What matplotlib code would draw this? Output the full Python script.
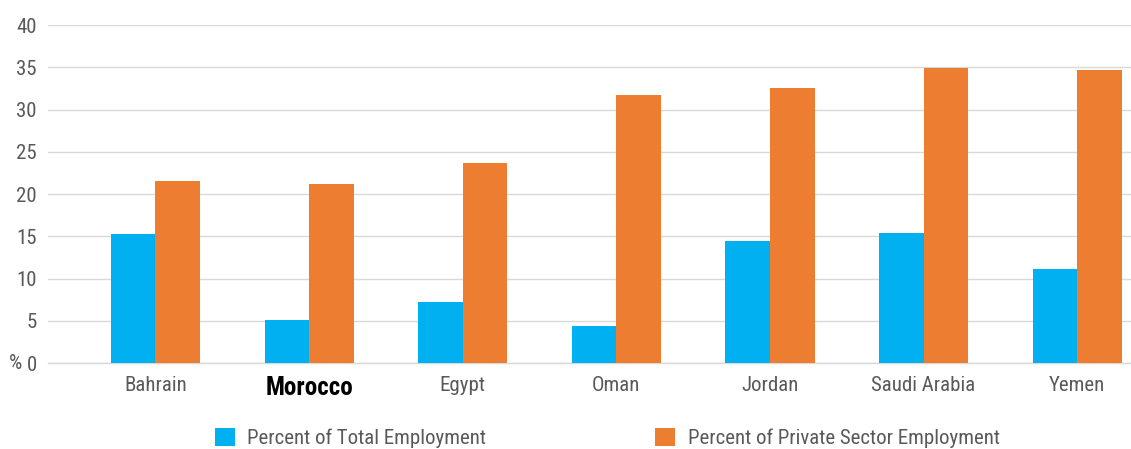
import numpy as np
import matplotlib
matplotlib.use("Agg")
import matplotlib.pyplot as plt
from matplotlib.patches import Patch

plt.rcParams["font.family"] = ["Roboto Condensed", "Liberation Sans Narrow", "Liberation Sans", "DejaVu Sans"]

countries = ["Bahrain", "Morocco", "Egypt", "Oman", "Jordan", "Saudi Arabia", "Yemen"]
total_emp = [15.3, 5.1, 7.2, 4.4, 14.4, 15.4, 11.1]
private_emp = [21.5, 21.2, 23.7, 31.7, 32.5, 34.9, 34.7]
series_labels = ["Percent of Total Employment", "Percent of Private Sector Employment"]
yticks = [0, 5, 10, 15, 20, 25, 30, 35, 40]

BLUE = "#00b0f0"
ORANGE = "#ed7d31"
GRID = "#d9d9d9"
TXT = "#595959"

fig = plt.figure(figsize=(11.31, 4.49), dpi=100)
ax = fig.add_axes([0.0424, 0.1915, 0.9576, 0.7525])

x = np.arange(len(countries))
w = 0.29
ax.bar(x - w / 2, total_emp, width=w, color=BLUE, zorder=3)
ax.bar(x + w / 2, private_emp, width=w, color=ORANGE, zorder=3)

ax.set_xlim(-0.7, 6.35)
ax.set_ylim(0, 40)
ax.set_yticks(yticks)
ax.set_yticklabels([str(t) for t in yticks])
ax.yaxis.grid(True, color=GRID, linewidth=1.0, zorder=0)
ax.set_axisbelow(True)
for s in ["left", "right", "top"]:
    ax.spines[s].set_visible(False)
ax.spines["bottom"].set_color(GRID)
ax.spines["bottom"].set_linewidth(1.0)
ax.tick_params(axis="both", length=0, labelsize=15, colors=TXT)
ax.tick_params(axis="y", pad=8)
ax.tick_params(axis="x", pad=9)
ax.set_xticks(x)
ax.set_xticklabels(countries)
for lbl in ax.get_xticklabels():
    if lbl.get_text() == "Morocco":
        lbl.set_color("black")
        lbl.set_fontweight("bold")
        lbl.set_fontsize(18)

# "%" unit marker left of the zero tick
fig.text(9 / 1131, 0.1915, "%", ha="left", va="center", fontsize=15, color=TXT)

handles = [Patch(facecolor=BLUE), Patch(facecolor=ORANGE)]
fig.legend(handles, series_labels, loc="center", bbox_to_anchor=(0.537, 0.0245),
           ncol=2, frameon=False, fontsize=15, labelcolor=TXT,
           handlelength=0.96, handleheight=0.96, handletextpad=0.62, columnspacing=8.1)

fig.savefig("out.png", dpi=100)
